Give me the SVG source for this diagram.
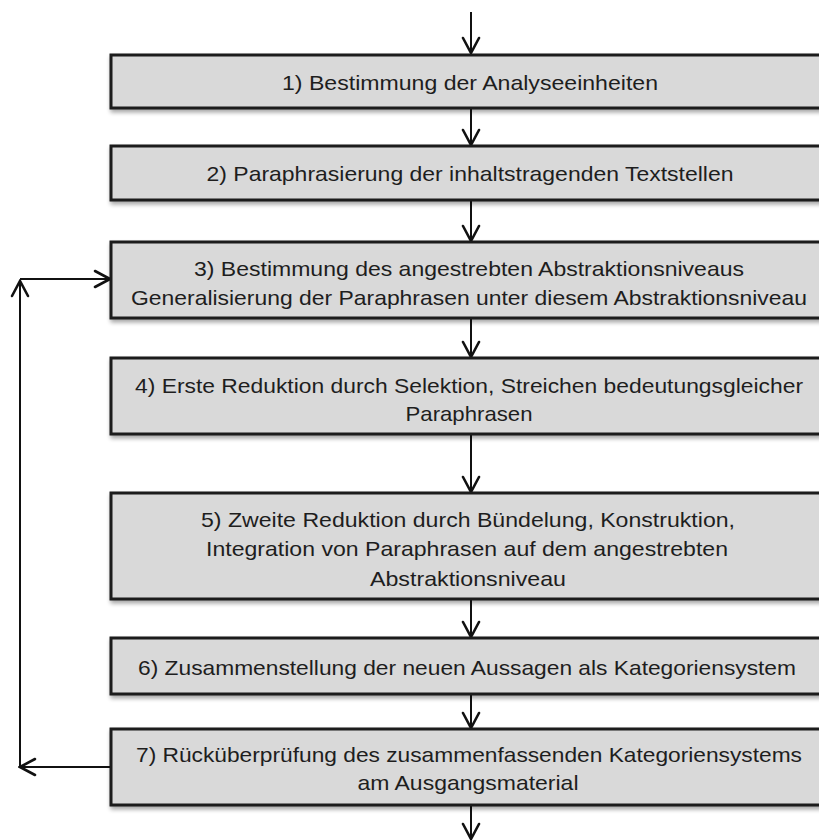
<svg xmlns="http://www.w3.org/2000/svg" width="819" height="840" viewBox="0 0 819 840">
  <defs>
    <marker id="ah" markerUnits="userSpaceOnUse" viewBox="-17 -10 19 20" refX="0" refY="0" markerWidth="19" markerHeight="20" orient="auto">
      <path d="M-15,-8 L0,0 L-15,8" fill="none" stroke="#111" stroke-width="2.6" stroke-linecap="round" stroke-linejoin="miter"/>
    </marker>
    <filter id="sh" x="-5%" y="-20%" width="110%" height="150%">
      <feGaussianBlur in="SourceAlpha" stdDeviation="2"/>
      <feOffset dx="1" dy="3" result="b"/>
      <feComponentTransfer><feFuncA type="linear" slope="0.35"/></feComponentTransfer>
      <feMerge><feMergeNode/><feMergeNode in="SourceGraphic"/></feMerge>
    </filter>
  </defs>
  <style>
    .box { fill: #d9d9d9; stroke: #1a1a1a; stroke-width: 3; filter: url(#sh); }
    .lbl { font-family: "Liberation Sans", "Open Sans", sans-serif; font-size: 21px; fill: #1e1e1e; text-anchor: middle; }
    .con { fill: none; stroke: #111; stroke-width: 2; marker-end: url(#ah); }
  </style>
  <rect width="819" height="840" fill="#ffffff"/>

  <g id="connectors">
    <path class="con" d="M471,12 L471,53"/>
    <path class="con" d="M471,108 L471,145"/>
    <path class="con" d="M471,200 L471,241"/>
    <path class="con" d="M471,318 L471,357"/>
    <path class="con" d="M471,434 L471,492"/>
    <path class="con" d="M471,599 L471,637"/>
    <path class="con" d="M471,694 L471,728"/>
    <path class="con" d="M471,805 L471,839"/>
    <path class="con" d="M111,767 L20,767"/>
    <path class="con" d="M20,767 L20,281"/>
    <path class="con" d="M20,279 L110,279"/>
  </g>

  <g id="node1">
    <rect class="box" x="111" y="55" width="730" height="53"/>
    <text class="lbl" x="470" y="90" textLength="376" lengthAdjust="spacingAndGlyphs">1) Bestimmung der Analyseeinheiten</text>
  </g>
  <g id="node2">
    <rect class="box" x="111" y="146" width="730" height="54"/>
    <text class="lbl" x="470" y="181" textLength="527" lengthAdjust="spacingAndGlyphs">2) Paraphrasierung der inhaltstragenden Textstellen</text>
  </g>
  <g id="node3">
    <rect class="box" x="111" y="242" width="730" height="76"/>
    <text class="lbl" x="469" y="276" textLength="550" lengthAdjust="spacingAndGlyphs">3) Bestimmung des angestrebten Abstraktionsniveaus</text>
    <text class="lbl" x="469" y="305" textLength="676" lengthAdjust="spacingAndGlyphs">Generalisierung der Paraphrasen unter diesem Abstraktionsniveau</text>
  </g>
  <g id="node4">
    <rect class="box" x="111" y="358" width="730" height="76"/>
    <text class="lbl" x="469" y="393" textLength="668" lengthAdjust="spacingAndGlyphs">4) Erste Reduktion durch Selektion, Streichen bedeutungsgleicher</text>
    <text class="lbl" x="469" y="421" textLength="127" lengthAdjust="spacingAndGlyphs">Paraphrasen</text>
  </g>
  <g id="node5">
    <rect class="box" x="111" y="493" width="730" height="106"/>
    <text class="lbl" x="468" y="527" textLength="534" lengthAdjust="spacingAndGlyphs">5) Zweite Reduktion durch Bündelung, Konstruktion,</text>
    <text class="lbl" x="467" y="556" textLength="522" lengthAdjust="spacingAndGlyphs">Integration von Paraphrasen auf dem angestrebten</text>
    <text class="lbl" x="468" y="586" textLength="196" lengthAdjust="spacingAndGlyphs">Abstraktionsniveau</text>
  </g>
  <g id="node6">
    <rect class="box" x="111" y="638" width="730" height="56"/>
    <text class="lbl" x="467" y="675" textLength="658" lengthAdjust="spacingAndGlyphs">6) Zusammenstellung der neuen Aussagen als Kategoriensystem</text>
  </g>
  <g id="node7">
    <rect class="box" x="111" y="729" width="730" height="76"/>
    <text class="lbl" x="469" y="762" textLength="666" lengthAdjust="spacingAndGlyphs">7) Rücküberprüfung des zusammenfassenden Kategoriensystems</text>
    <text class="lbl" x="468" y="790" textLength="221" lengthAdjust="spacingAndGlyphs">am Ausgangsmaterial</text>
  </g>
</svg>
